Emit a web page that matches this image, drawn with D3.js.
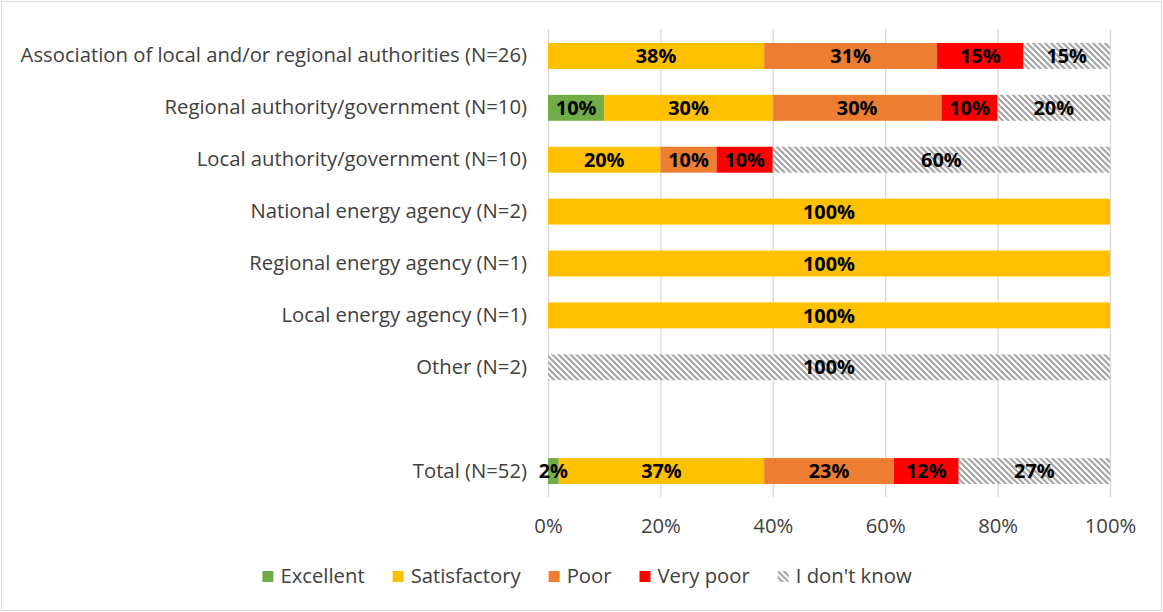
<!DOCTYPE html>
<html><head><meta charset="utf-8">
<script src="https://cdn.jsdelivr.net/npm/d3@7"></script>
<style>
html,body{margin:0;padding:0;background:#fff;}
svg{display:block;font-family:"Open Sans",Lato,sans-serif;}
</style></head>
<body><svg id="chart" width="1163" height="612"></svg>
<script>
const categories = [
  "Association of local and/or regional authorities (N=26)",
  "Regional authority/government (N=10)",
  "Local authority/government (N=10)",
  "National energy agency (N=2)",
  "Regional energy agency (N=1)",
  "Local energy agency (N=1)",
  "Other (N=2)",
  "",
  "Total (N=52)"
];
const seriesNames = ["Excellent","Satisfactory","Poor","Very poor","I don't know"];
const excellent    = [0,     10, 0,  0,   0,   0,   0,   null, 1.92];
const satisfactory = [38.46, 30, 20, 100, 100, 100, 0,   null, 36.54];
const poor         = [30.77, 30, 10, 0,   0,   0,   0,   null, 23.08];
const veryPoor     = [15.38, 10, 10, 0,   0,   0,   0,   null, 11.54];
const dontKnow     = [15.38, 20, 60, 0,   0,   0,   100, null, 26.92];
const xTicks = [0,20,40,60,80,100];
const colors = ["#70AD47","#FFC000","#ED7D31","#FF0000","url(#hatch)"];
const legendColors = ["#70AD47","#FFC000","#ED7D31","#FF0000","url(#hatchL)"];

const series = [excellent, satisfactory, poor, veryPoor, dontKnow];
const rows = categories.map((c,i)=>{const o={cat:c}; seriesNames.forEach((s,j)=>o[s]=series[j][i]||0); return o;});
const stacked = d3.stack().keys(seriesNames)(rows);

const svg = d3.select("#chart");
const W=1163,H=612;
svg.append("rect").attr("x",1.5).attr("y",1.5).attr("width",W-3).attr("height",H-3).attr("fill","#fff").attr("stroke","#D9D9D9").attr("stroke-width",1);

// fit font size so the longest category label matches the reference width
const probe = svg.append("text").attr("font-size",20).text(categories[0]);
const fs = 20*507/probe.node().getComputedTextLength();
probe.remove();

const defs = svg.append("defs");
function hatch(id){
  const p = defs.append("pattern").attr("id",id).attr("patternUnits","userSpaceOnUse").attr("width",6).attr("height",6);
  p.append("rect").attr("width",6).attr("height",6).attr("fill","#fff");
  p.append("path").attr("d","M-1,-1 L7,7 M-4,2 L4,10 M2,-4 L10,4").attr("stroke","#A6A6A6").attr("stroke-width",2.2);
}
hatch("hatch"); hatch("hatchL");

const x = d3.scaleLinear().domain([0,100]).range([548,1110]);
const y = d3.scaleBand().domain(categories.map((c,i)=>i)).range([30,497]).paddingInner(0.5).paddingOuter(0.25);

// grid
svg.append("g").selectAll("line").data(xTicks).join("line")
  .attr("x1",d=>x(d)+0.5).attr("x2",d=>x(d)+0.5).attr("y1",29).attr("y2",497)
  .attr("stroke","#D9D9D9").attr("stroke-width",1.3);

// bars
const g = svg.append("g");
stacked.forEach((layer,j)=>{
  g.append("g").selectAll("rect").data(layer.map((d,i)=>({d,i}))).join("rect")
    .filter(o=>o.d[1]-o.d[0]>0)
    .attr("x",o=>x(o.d[0])).attr("width",o=>x(o.d[1])-x(o.d[0]))
    .attr("y",o=>y(o.i)).attr("height",y.bandwidth())
    .attr("fill",colors[j]);
});
// labels
stacked.forEach((layer,j)=>{
  g.append("g").selectAll("text").data(layer.map((d,i)=>({d,i}))).join("text")
    .filter(o=>o.d[1]-o.d[0]>0)
    .attr("x",o=>x((o.d[0]+o.d[1])/2)).attr("y",o=>y(o.i)+y.bandwidth()/2)
    .attr("dy","0.36em").attr("text-anchor","middle")
    .attr("font-size",fs*0.98).attr("font-weight","bold").attr("fill","#000")
    .text(o=>Math.round(o.d[1]-o.d[0])+"%");
});

// category labels
const yAxis = d3.axisLeft(y).tickSize(0).tickPadding(21).tickFormat(i=>categories[i]);
const ya = svg.append("g").attr("transform","translate(548,0)").call(yAxis).attr("font-family",null);
ya.select(".domain").remove();
ya.selectAll("text").attr("font-size",fs).attr("fill","#404040");

// x axis
const xAxis = d3.axisBottom(x).tickValues(xTicks).tickSize(0).tickPadding(14).tickFormat(d=>d+"%");
const xa = svg.append("g").attr("transform","translate(0,505)").call(xAxis).attr("font-family",null);
xa.select(".domain").remove();
xa.selectAll("text").attr("font-size",fs).attr("fill","#404040");

// legend
const lg = svg.append("g");
let cx = 0;
seriesNames.forEach((s,j)=>{
  const it = lg.append("g").attr("transform",`translate(${cx},0)`);
  it.append("rect").attr("x",0).attr("y",-12).attr("width",11).attr("height",11).attr("fill",legendColors[j]);
  const t = it.append("text").attr("x",18).attr("y",0).attr("font-size",fs).attr("fill","#404040").text(s);
  cx += 18 + t.node().getComputedTextLength() + 28;
});
const lw = cx - 28;
lg.attr("transform",`translate(${587 - lw/2},583)`);
</script></body></html>
